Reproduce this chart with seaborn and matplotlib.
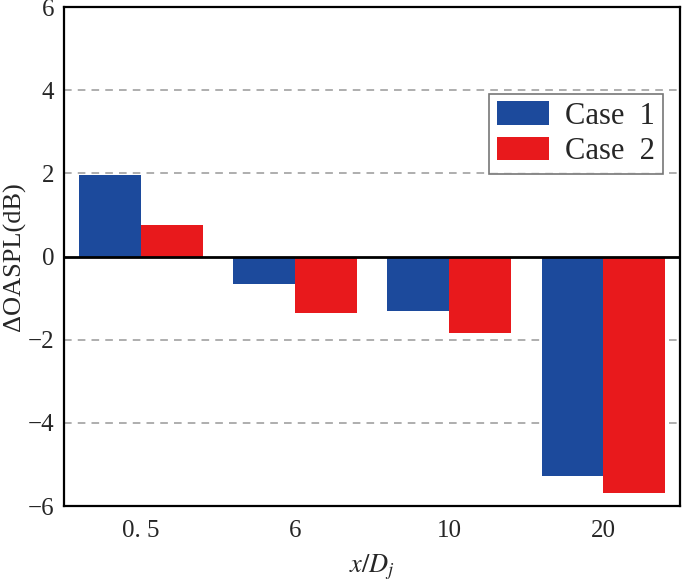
import pandas as pd
import seaborn as sns
import matplotlib.pyplot as plt

# values
positions = ["0. 5", "6", "10", "20"]
case1 = [1.96, -0.66, -1.30, -5.28]
case2 = [0.75, -1.36, -1.85, -5.69]
series = ["Case  1", "Case  2"]
y_ticks = [-6, -4, -2, 0, 2, 4, 6]

df = pd.DataFrame({
    "pos": positions * 2,
    "delta": case1 + case2,
    "case": [series[0]] * len(positions) + [series[1]] * len(positions),
})

sns.set_style("white")
plt.rcParams["font.family"] = ["Liberation Serif", "DejaVu Serif"]
plt.rcParams["mathtext.fontset"] = "stix"

fig = plt.figure(figsize=(6.85, 5.85), dpi=100)
ax = fig.add_axes([0.0934, 0.135, 0.8995, 0.853])

sns.barplot(data=df, x="pos", y="delta", hue="case", order=positions,
            palette=["#1C4A9C", "#E8191C"], width=0.8, saturation=1,
            edgecolor="none", linewidth=0, ax=ax)

# dashed grid at +-2 and +-4, solid line at zero
for y in [-4, -2, 2, 4]:
    ax.axhline(y, color="#999999", linestyle=(0, (5, 4)), linewidth=1.1, zorder=0)
ax.axhline(0, color="black", linewidth=2, zorder=3)

ax.set_ylim(-6, 6)
ax.set_xlim(-0.5, 3.5)
ax.set_yticks(y_ticks)
ax.set_yticklabels([str(t).replace("-", "\u2212") for t in y_ticks])
ax.tick_params(axis="y", length=0, pad=7, labelsize=18)
ax.tick_params(axis="x", length=0, pad=10, labelsize=18)

ax.set_xlabel("$x/D_j$", fontsize=19, labelpad=8)
ax.set_ylabel("\u0394OASPL(dB)", fontsize=19, labelpad=1)

for s in ax.spines.values():
    s.set_color("black")
    s.set_linewidth(1.6)

leg = ax.legend(loc="upper right", bbox_to_anchor=(0.972, 0.826), fontsize=22,
                frameon=True, fancybox=False, edgecolor="#555555",
                handlelength=1.7, handleheight=0.8, handletextpad=0.55,
                borderpad=0.25, labelspacing=0.2, borderaxespad=0)
leg.get_frame().set_linewidth(1.2)

fig.savefig("out.png", dpi=100)
